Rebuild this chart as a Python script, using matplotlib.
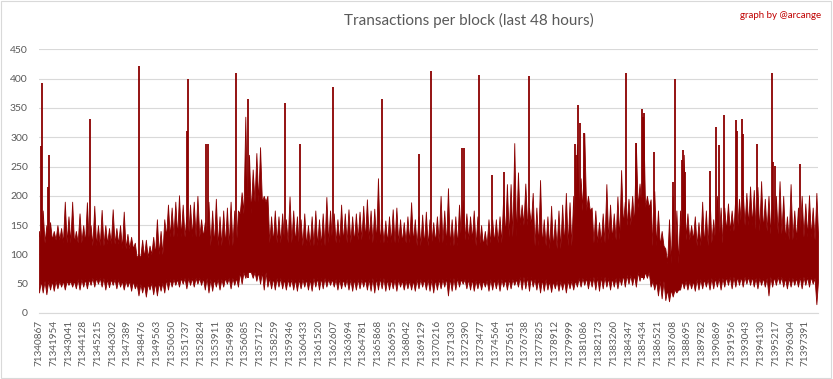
import numpy as np
import matplotlib.pyplot as plt

plt.rcParams['font.family'] = ['Lato', 'DejaVu Sans']

# block numbers shown on the x axis (one label every 1087 blocks)
tick_labels = [71340867, 71341954, 71343041, 71344128, 71345215, 71346302, 71347389,
               71348476, 71349563, 71350650, 71351737, 71352824, 71353911, 71354998,
               71356085, 71357172, 71358259, 71359346, 71360433, 71361520, 71362607,
               71363694, 71364781, 71365868, 71366955, 71368042, 71369129, 71370216,
               71371303, 71372390, 71373477, 71374564, 71375651, 71376738, 71377825,
               71378912, 71379999, 71381086, 71382173, 71383260, 71384347, 71385434,
               71386521, 71387608, 71388695, 71389782, 71390869, 71391956, 71393043,
               71394130, 71395217, 71396304, 71397391]
tick_step = 1087
last_block = 71398326

# dense part of the band around each label (+1 past the last one)
core_hi = [120, 125, 120, 120, 115, 118, 110, 95, 100,
           130, 130, 130, 115, 115, 170, 190, 120, 120, 115, 115, 120,
           120, 125, 120, 120, 120, 115, 120, 115, 125, 115, 120,
           130, 150, 115, 110, 115, 175, 120, 125, 150, 180,
           115, 85, 125, 115, 120, 140, 150, 140, 135, 125, 130, 125]
core_lo = [55, 55, 55, 58, 60, 58, 55, 50, 52,
           58, 60, 60, 58, 60, 70, 70, 60, 58, 58, 60, 58,
           58, 58, 60, 58, 56, 58, 58, 60, 58, 56, 58,
           58, 62, 58, 55, 56, 60, 62, 60, 65, 70,
           55, 40, 55, 58, 60, 62, 62, 60, 62, 60, 62, 60]

# max / min of transactions in every quarter of a label step
hi = [140, 175, 150, 155, 140, 150, 145, 190, 165, 190, 140, 170, 150, 189, 150, 183,
      150, 176, 150, 145, 177, 145, 150, 173, 135, 130, 120, 100, 125, 125, 115, 130,
      160, 140, 160, 185,
      180, 190, 201, 185, 165, 185, 190, 200, 160, 155, 190, 175, 195, 165, 175, 180,
      190, 175, 175, 206, 335, 270, 245, 273, 283, 200, 200, 165, 175, 165, 170, 160,
      199, 175, 165, 160, 170, 150, 165, 175, 160, 170, 198, 175,
      170, 160, 185, 170, 177, 165, 170, 173, 183, 194, 175, 178, 230, 160, 158, 165,
      177, 180, 160, 155, 165, 189, 160, 165, 168, 173, 160, 155, 165, 200, 175, 213,
      160, 165, 185, 193, 170, 165, 175, 165, 150, 140, 160,
      160, 160, 165, 200, 220, 220, 290, 240, 185, 221, 180, 205, 180, 227, 160, 165,
      183, 160, 175, 185, 205, 189, 200, 288, 230, 307, 200, 180, 175, 155, 170, 220,
      185, 170, 199, 244, 190, 195, 200, 290, 221, 335, 200,
      194, 208, 175, 140, 110, 160, 200, 175, 175, 270, 170, 150, 165, 155, 190, 175,
      200, 160, 200, 180, 180, 187, 175, 200, 195, 210, 205, 216, 210, 215, 225, 195,
      200, 200, 200, 225, 200, 165, 220, 175, 180, 200, 187, 201, 180, 205]
lo = [35, 35, 32, 40, 38, 42, 45, 40, 48, 45, 42, 40, 45, 42, 48, 45, 50, 45, 40, 44,
      48, 42, 45, 40, 45, 38, 42, 30, 35, 28, 40, 32, 30, 38, 35, 40,
      45, 48, 45, 50, 42, 48, 45, 50, 48, 40, 35, 38, 45, 40, 45, 50, 42, 48, 45, 50,
      60, 70, 60, 55, 50, 40, 45, 42, 40, 45, 42, 40, 45, 40, 38, 42, 45, 40, 38, 45,
      40, 42, 45, 48,
      45, 40, 42, 45, 40, 38, 40, 42, 45, 40, 38, 35, 40, 42, 38, 40, 42, 38, 45, 40,
      42, 40, 38, 42, 45, 40, 38, 35, 40, 42, 45, 30, 38, 40, 45, 50, 42, 40, 38, 42,
      40, 45, 38,
      40, 42, 38, 45, 40, 42, 48, 45, 40, 42, 38, 45, 40, 35, 38, 40, 36, 42, 38, 40,
      35, 42, 40, 45, 45, 48, 42, 45, 40, 38, 42, 45, 40, 45, 42, 48, 45, 50, 48, 45,
      55, 58, 60,
      45, 40, 30, 25, 22, 20, 28, 35, 40, 42, 40, 42, 38, 40, 42, 45, 40, 42, 45, 40,
      45, 48, 42, 45, 48, 45, 50, 48, 45, 42, 48, 45, 30, 45, 48, 50, 45, 42, 45, 48,
      45, 42, 48, 45, 50, 15]

# single blocks that stick out far above the rest
spike_blocks = [71341037, 71341111, 71341507, 71341580, 71344653, 71348270,
                71351812, 71351884, 71353213, 71353337, 71355427, 71356267, 71359042, 71360148,
                71362584, 71366199, 71368929, 71369815, 71372102, 71372206, 71373357,
                71374316, 71375179, 71376973, 71380367, 71380492, 71380589, 71380737, 71381032,
                71384131, 71384869, 71385312, 71385415, 71385509,
                71386198, 71387600, 71387747, 71388264, 71388338, 71388485, 71390330, 71390772,
                71390994, 71391363, 71392277, 71392350, 71392690, 71392764, 71393797, 71394933,
                71395007, 71395125, 71396969]
spike_vals = [285, 392, 215, 270, 331, 421,
              310, 400, 288, 288, 409, 365, 358, 288,
              386, 366, 271, 413, 281, 281, 406,
              236, 240, 405, 288, 270, 355, 324, 307,
              409, 290, 348, 335, 342,
              274, 223, 400, 261, 278, 241, 242, 317,
              287, 338, 329, 311, 331, 305, 288, 409,
              258, 251, 254]

red = '#8b0000'
grey = '#595959'

fig = plt.figure(figsize=(8.33, 3.79), dpi=100)
ax = fig.add_axes([39 / 833, 1 - 313 / 379, (818 - 39) / 833, (313 - 49.3) / 379])

# zigzag outline: each quarter bin peaks at hi/lo, and between two bins
# the outline drops back to the dense core around the nearest label
w = tick_step / 4
j = np.arange(len(hi))
k = (j + 2) // 4
bin_x = tick_labels[0] + w * j
top_mid = np.minimum(np.array(core_hi)[k], np.array(hi))
bot_mid = np.maximum(np.array(core_lo)[k], np.array(lo))
xs = np.column_stack([bin_x, bin_x + w / 2]).ravel()
tops = np.column_stack([hi, top_mid]).ravel()
bots = np.column_stack([lo, bot_mid]).ravel()

ax.fill_between(xs, bots, tops, color=red, lw=0.6, edgecolor=red, zorder=2)
ax.vlines(spike_blocks, 60, spike_vals, color=red, lw=1.3, zorder=2)

ax.set_xlim(tick_labels[0], last_block)
ax.set_ylim(0, 450)
ax.set_yticks(range(0, 451, 50))
ax.set_xticks(tick_labels)
ax.set_xticklabels([str(t) for t in tick_labels], rotation=90)
ax.tick_params(axis='x', length=0, pad=5, labelsize=7.2, labelcolor=grey)
ax.tick_params(axis='y', length=0, pad=8, labelsize=7.5, labelcolor=grey)
ax.yaxis.grid(True, color='#d9d9d9', lw=0.8, zorder=0)
ax.set_axisbelow(True)
for s in ['top', 'right', 'left']:
    ax.spines[s].set_visible(False)
ax.spines['bottom'].set_color('#d9d9d9')
ax.spines['bottom'].set_linewidth(0.8)

fig.text(469 / 833, 1 - 20 / 379, 'Transactions per block (last 48 hours)',
         ha='center', va='center', fontsize=11, color=grey)
fig.text(821 / 833, 1 - 16 / 379, 'graph by @arcange',
         ha='right', va='center', fontsize=7, color='#c00000')

fig.patches.append(plt.Rectangle((0.001, 0.002), 0.997, 0.995, transform=fig.transFigure,
                                 fill=False, edgecolor='#d9d9d9', lw=0.8))

fig.savefig('out.png', dpi=100)
